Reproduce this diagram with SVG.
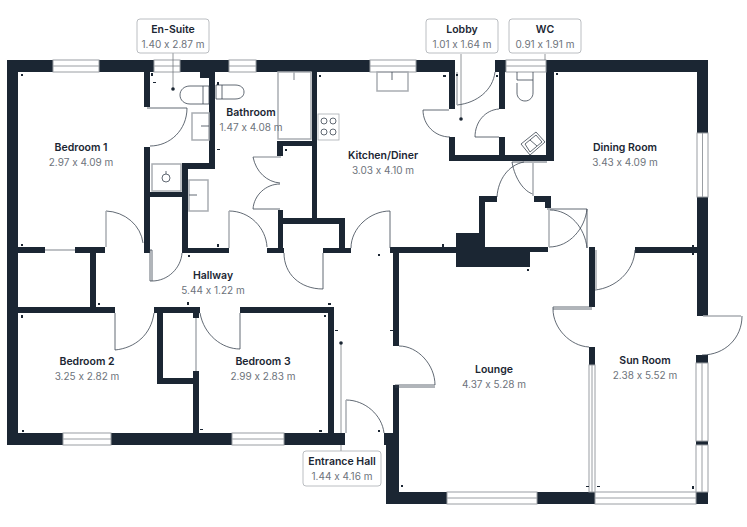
<svg xmlns="http://www.w3.org/2000/svg" width="747" height="527" viewBox="0 0 747 527">
<style>
.w{fill:#1b2633}
.l{fill:none;stroke:#3a4450;stroke-width:.8}
.g{fill:none;stroke:#a9adb2;stroke-width:1.5}
.win{fill:#fff;stroke:#9a9ea3;stroke-width:1}
.t{font-family:Inter,"Noto Sans",sans-serif;font-size:10.500px;font-weight:600;fill:#1b2633;text-anchor:middle;font-feature-settings:"calt" 0}
.s{font-family:Inter,"Noto Sans",sans-serif;font-size:10px;fill:#6d737b;text-anchor:middle;font-feature-settings:"calt" 0}
.box{fill:#fff;stroke:#a9adb2;stroke-width:.8}
.lead{stroke:#777c82;stroke-width:.8;fill:none}
.k{fill:#1b2633}
</style>
<rect width="747" height="527" fill="#fff"/>
<g id="walls" class="w">
<rect x="7" y="60" width="147" height="12"/><rect x="180" y="60" width="49" height="12"/><rect x="256" y="60" width="114" height="12"/><rect x="416" y="60" width="39" height="12"/><rect x="495" y="60" width="11" height="12"/><rect x="546" y="60" width="162" height="12"/>
<rect x="7" y="60" width="11" height="385"/><rect x="7" y="433" width="338" height="12"/>
<rect x="697" y="60" width="11" height="256"/>
<rect x="696" y="355" width="12" height="8"/><rect x="696" y="441" width="12" height="4"/>
<rect x="386" y="433" width="13" height="71"/><rect x="384" y="433" width="10" height="12"/><rect x="386" y="492" width="209" height="12"/><rect x="696" y="492" width="12" height="12"/>
<rect x="393" y="252" width="6" height="94"/><rect x="393" y="385" width="6" height="50"/>
<rect x="18" y="247" width="27" height="6"/><rect x="75" y="247" width="30" height="6"/><rect x="90" y="253" width="6" height="54"/>
<rect x="18" y="307" width="97" height="6"/><rect x="154" y="307" width="46" height="6"/><rect x="240" y="307" width="94" height="6"/><rect x="328" y="307" width="6" height="126"/>
<rect x="157" y="313" width="6" height="71"/><rect x="157" y="378" width="39" height="6"/><rect x="193" y="371" width="6" height="62"/><rect x="193" y="313" width="6" height="5"/>
<rect x="144" y="72" width="6" height="35"/><rect x="144" y="147" width="6" height="106"/><rect x="144" y="192" width="44" height="5"/><rect x="182" y="163" width="6" height="90"/><rect x="182" y="163" width="33" height="6"/><rect x="209" y="72" width="6" height="97"/><rect x="200" y="72" width="15" height="6"/>
<rect x="188" y="248" width="41" height="5"/><rect x="267" y="248" width="17" height="5"/><rect x="323" y="248" width="28" height="5"/><rect x="278" y="210" width="5" height="43"/><rect x="278" y="218" width="67" height="6"/><rect x="339" y="218" width="6" height="35"/><rect x="312" y="72" width="5" height="152"/><rect x="277" y="141" width="40" height="5"/><rect x="277" y="141" width="6" height="15"/>
<rect x="390" y="247" width="66" height="6"/><rect x="456" y="233" width="29" height="34"/><rect x="456" y="247" width="74" height="20"/><rect x="530" y="247" width="18" height="5"/><rect x="479" y="196" width="6" height="40"/><rect x="479" y="196" width="18" height="6"/><rect x="534" y="196" width="17" height="6"/><rect x="545" y="196" width="6" height="12"/>
<rect x="449" y="72" width="6" height="37"/><rect x="449" y="137" width="6" height="24"/><rect x="449" y="155" width="105" height="6"/><rect x="499" y="72" width="6" height="37"/><rect x="499" y="137" width="6" height="20"/><rect x="546" y="72" width="8" height="89"/>
<rect x="589" y="247" width="6" height="60"/><rect x="589" y="347" width="6" height="18"/><rect x="635" y="247" width="62" height="6"/>
</g>
<g id="windows">
<rect class="win" x="53" y="60" width="46" height="12"/><path class="win" d="M53 66H99"/>
<rect class="win" x="154" y="60" width="26" height="12"/><path class="win" d="M154 66H180"/>
<rect class="win" x="229" y="60" width="27" height="12"/><path class="win" d="M229 66H256"/>
<rect class="win" x="370" y="60" width="46" height="12"/><path class="win" d="M370 66H416"/>
<rect class="win" x="506" y="60" width="40" height="12"/><path class="win" d="M506 66H546"/>
<rect class="win" x="697" y="133" width="11" height="64"/><path class="win" d="M702.500 133V197"/>
<rect class="win" x="63" y="433" width="48" height="12"/><path class="win" d="M63 439H111"/>
<rect class="win" x="232" y="433" width="52" height="12"/><path class="win" d="M232 439H284"/>
<rect class="win" x="447" y="492" width="90" height="12"/><path class="win" d="M447 498H537"/>
<rect class="win" x="595" y="492" width="101" height="12"/><path class="win" d="M595 498H696"/>
<rect class="win" x="589" y="365" width="6" height="127"/><path class="win" d="M592 365V492"/>
<rect class="win" x="696" y="363" width="12" height="78"/><path class="win" d="M702 363V441"/>
<rect class="win" x="696" y="445" width="12" height="47"/><path class="win" d="M702 445V492"/>
<path class="g" d="M45 250H75M196 318V371"/>
</g>
<g id="connectors">
<path class="lead" d="M173 53V89M461 54V119M545 54V60M341 343V433M341 445V451"/>
<circle cx="173" cy="89" r="1.800" fill="#1b2633"/><circle cx="461" cy="119" r="1.800" fill="#1b2633"/><circle cx="341" cy="343" r="1.800" fill="#1b2633"/>
</g>
<g id="doors">
<path class="l" d="M147 108H187M187 108C187 130 170 146 150 146"/>
<path class="l" d="M106 211A39 36 0 0 1 143 243"/><path class="g" d="M106 211V247"/>
<path class="l" d="M150 250H152V281H150ZM152 281C168 281 181 268 182 253"/>
<path class="l" d="M229 211C250 211 266 228 267 247"/><path class="g" d="M229 211V248"/>
<path class="l" d="M284 253C284 274 300 289 323 289V253"/>
<path class="l" d="M390 211V248M390 211C370 211 351 228 351 248"/>
<path class="l" d="M115 313V350C135 348 151 335 154 313"/>
<path class="l" d="M240 313V349C222 349 204 335 200 313"/>
<path class="l" d="M395 385H435M395 387H435M435 385C435 365 418 346 399 346"/>
<path class="l" d="M346 400C365 400 382 415 384 433"/><path class="g" d="M346 400V433"/>
<path class="l" d="M457 105C477 103 493 90 495 72"/><path class="g" d="M457 72V105"/>
<path class="l" d="M449 110H423C423 125 435 137 450 137"/>
<path class="l" d="M499 109C485 110 475 122 475 137H499"/>
<path class="l" d="M512 162H547M524 162C508 165 498 180 497 197M512 162C515 180 525 192 533 194"/><path class="g" d="M533 163V196"/>
<path class="l" d="M547 209H587V248M550 210C570 210 585 228 587 248"/>
<path class="l" d="M549 247C570 247 585 228 587 209"/><path class="g" d="M549 210V247"/>
<path class="l" d="M595 290C615 288 634 272 635 250"/><path class="g" d="M596 250V290"/>
<path class="l" d="M592 307H553V309H592M553 309C553 328 570 346 589 347"/>
<path class="l" d="M742 316C742 338 725 355 702 355"/><path class="g" d="M703 316H741"/>
<path class="g" d="M253 157H281"/><path class="l" d="M253 157C256 172 267 182 280 183M280 184C266 184 254 195 253 209H280"/>
</g>
<g id="fixtures" class="l">
<path d="M203 86H190C184 86 180 90 180 95S184 104 190 104H209V86H203V104"/>
<path d="M222 85H235C241 85 244 88 244 92S241 99 235 99H216V85H222V99"/>
<rect class="g" x="192" y="113" width="17" height="27"/><path d="M201 126H209"/>
<rect class="g" x="152" y="164" width="29" height="27"/><circle cx="166" cy="178" r="4"/><path d="M166 171V174"/>
<rect class="g" x="189" y="180" width="19" height="31"/><path d="M189 195H197"/>
<rect class="g" x="278" y="72" width="33" height="67"/><path class="g" d="M294 72V80"/>
<rect x="318" y="114" width="21" height="26" stroke="#a9adb2"/><circle cx="324" cy="121" r="3"/><circle cx="333" cy="121" r="3"/><circle cx="324" cy="132" r="3"/><circle cx="333" cy="132" r="3"/>
<rect class="g" x="377" y="72" width="31" height="19"/><path d="M392 72V80"/>
<path d="M517 83V93C517 97 520 101 525 101S533 97 533 93V72M517 72V80H533"/>
<path d="M521 144L536 132L545 142L530 155ZM525 144L536 135L542 142L530 152ZM530 140L537 146"/>
</g>
<g id="ticks" class="k">
<rect x="21" y="74" width="2" height="2"/><rect x="22" y="430" width="2" height="2"/><rect x="200" y="429" width="3" height="1"/><rect x="319" y="75" width="2" height="2"/><rect x="217" y="82" width="2" height="3"/><rect x="151" y="73" width="2" height="3"/><rect x="153" y="82" width="3" height="1"/><rect x="217" y="149" width="3" height="1"/><rect x="285" y="149" width="2" height="2"/><rect x="443" y="75" width="3" height="2"/><rect x="456" y="74" width="2" height="2"/><rect x="496" y="75" width="2" height="2"/><rect x="556" y="73" width="2" height="2"/><rect x="21" y="244" width="2" height="2"/><rect x="21" y="315" width="2" height="3"/><rect x="98" y="303" width="2" height="2"/><rect x="188" y="255" width="2" height="2"/><rect x="187" y="302" width="2" height="3"/><rect x="217" y="244" width="2" height="3"/><rect x="328" y="303" width="3" height="2"/><rect x="324" y="315" width="2" height="2"/><rect x="335" y="330" width="3" height="1"/><rect x="390" y="330" width="3" height="1"/><rect x="378" y="254" width="2" height="2"/><rect x="319" y="430" width="3" height="2"/><rect x="378" y="430" width="2" height="2"/><rect x="401" y="485" width="2" height="2"/><rect x="586" y="486" width="3" height="1"/><rect x="597" y="486" width="3" height="1"/><rect x="692" y="486" width="2" height="3"/><rect x="692" y="245" width="2" height="3"/><rect x="692" y="252" width="2" height="3"/><rect x="527" y="269" width="2" height="2"/><rect x="442" y="244" width="2" height="3"/></g>
<g id="room-labels">
<g id="bedroom1"><text class="t" x="81" y="151">Bedroom 1</text><text class="s" x="81" y="166">2.97 x 4.09 m</text></g>
<g id="bathroom"><text class="t" x="251" y="116">Bathroom</text><text class="s" x="251" y="131">1.47 x 4.08 m</text></g>
<g id="kitchen"><text class="t" x="383" y="159">Kitchen/Diner</text><text class="s" x="383" y="174">3.03 x 4.10 m</text></g>
<g id="dining"><text class="t" x="625" y="151">Dining Room</text><text class="s" x="625" y="166">3.43 x 4.09 m</text></g>
<g id="hallway"><text class="t" x="213" y="279">Hallway</text><text class="s" x="213" y="294">5.44 x 1.22 m</text></g>
<g id="bedroom2"><text class="t" x="87" y="365">Bedroom 2</text><text class="s" x="87" y="380">3.25 x 2.82 m</text></g>
<g id="bedroom3"><text class="t" x="263" y="365">Bedroom 3</text><text class="s" x="263" y="380">2.99 x 2.83 m</text></g>
<g id="lounge"><text class="t" x="494" y="373">Lounge</text><text class="s" x="494" y="388">4.37 x 5.28 m</text></g>
<g id="sunroom"><text class="t" x="645" y="364">Sun Room</text><text class="s" x="645" y="379">2.38 x 5.52 m</text></g>
</g>
<g id="ensuite"><rect class="box" x="137" y="19" width="72" height="34" rx="3"/><text class="t" x="173" y="33">En-Suite</text><text class="s" x="173" y="48">1.40 x 2.87 m</text></g>
<g id="lobby"><rect class="box" x="426" y="19" width="72" height="34" rx="3"/><text class="t" x="462" y="33">Lobby</text><text class="s" x="462" y="48">1.01 x 1.64 m</text></g>
<g id="wc"><rect class="box" x="509" y="19" width="72" height="34" rx="3"/><text class="t" x="545" y="33">WC</text><text class="s" x="545" y="48">0.91 x 1.91 m</text></g>
<g id="entrance"><rect class="box" x="303" y="451" width="78" height="35" rx="3"/><text class="t" x="342" y="465">Entrance Hall</text><text class="s" x="342" y="480">1.44 x 4.16 m</text></g>
</svg>
